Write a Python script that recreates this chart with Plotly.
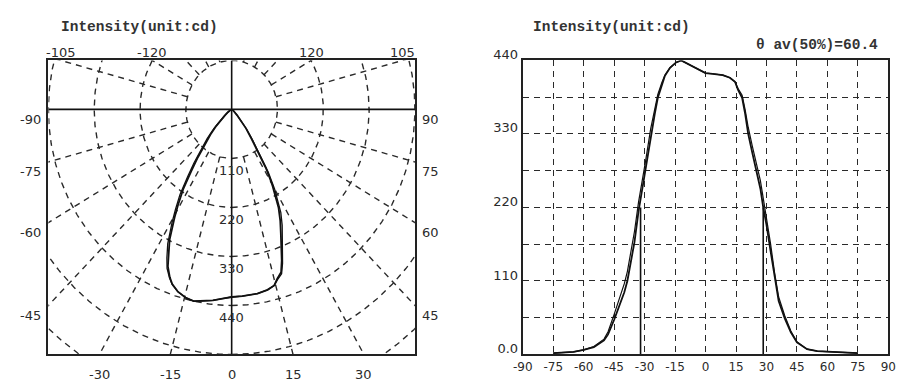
import numpy as np
import plotly.graph_objects as go

# ---------------- data ----------------
theta_deg = [-75, -70, -65, -60, -55, -50, -48, -45, -42, -40, -38.5, -37, -35, -33, -31, -29.5,
             -27, -25, -23.5, -21.5, -20, -17.5, -14.5, -12, -9.5, -6, -3, 0, 3.5, 8.5, 12, 14.5,
             16, 18, 19.5, 21, 23, 25, 27, 28.4, 30, 32, 34, 36, 39, 42, 45, 50, 55, 60, 65, 70, 75]
intensity_a = [2, 3, 4, 7, 11, 21, 30, 52, 76, 93, 110, 135, 168, 214, 250, 278,
               328, 360, 384, 405, 417, 429, 437, 440, 436, 431, 425, 421, 420, 418, 414, 408,
               396, 384, 360, 330, 302, 276, 248, 220, 194, 155, 114, 80, 54, 33, 18, 8, 5, 4, 3, 2, 2]
intensity_b = [2, 3, 4, 7, 12, 23, 34, 60, 88, 106, 124, 150, 184, 228, 262, 290,
               338, 368, 389, 407, 418, 429, 437, 440, 436, 431, 425, 421, 420, 418, 414, 408,
               398, 388, 366, 340, 312, 287, 260, 234, 206, 166, 122, 86, 58, 35, 19, 8, 5, 4, 3, 2, 2]
half_angles = [-32.0, 28.4]
half_value = 220

ring_values = [110, 220, 330, 440, 550, 660]
ring_labels = ["110", "220", "330", "440"]
side_angles = [90, 75, 60, 45]
bottom_angles = [-30, -15, 0, 15, 30]
top_angles = [-105, -120, 120, 105]

cart_xticks = list(range(-90, 91, 15))
cart_yticks = [0, 55, 110, 165, 220, 275, 330, 385, 440]
cart_yticktext = ["0.0", "", "110", "", "220", "", "330", "", "440"]

polar_xrange = [-440, 440]
polar_yrange = [-550, 110]

# ---------------- layout geometry ----------------
W, H = 905, 385
OFF = 8  # page body margin compensation
def px(x0, x1):
    return [(x0 - OFF) / W, (x1 - OFF) / W]
def py(y_top, y_bot):
    return [1 - (y_bot - OFF) / H, 1 - (y_top - OFF) / H]
def ppx(x):
    return (x - OFF) / W
def ppy(y):
    return 1 - (y - OFF) / H

GRID = "#2a2a2a"
DASH = "6px,5px"
LBL = dict(family="DejaVu Sans", size=13, color="#2b2b2b")
TCK = dict(family="DejaVu Sans", size=12, color="#2b2b2b")
TTL = dict(family="Liberation Mono", size=14.5, color="#333")

fig = go.Figure()

# ---------------- left: polar (cartesian rendering) ----------------
phi = np.linspace(0, 2 * np.pi, 721)
rx, ry = [], []
for r in ring_values:
    rx += list(r * np.sin(phi)) + [None]
    ry += list(-r * np.cos(phi)) + [None]
fig.add_trace(go.Scatter(x=rx, y=ry, mode="lines", xaxis="x", yaxis="y",
                         line=dict(color=GRID, width=1.4, dash=DASH), hoverinfo="skip"))

sx, sy = [], []
for a in range(15, 360, 15):
    if a % 90 == 0:
        continue
    t = np.radians(a)
    sx += [ring_values[0] * np.sin(t), 1200 * np.sin(t), None]
    sy += [-ring_values[0] * np.cos(t), -1200 * np.cos(t), None]
fig.add_trace(go.Scatter(x=sx, y=sy, mode="lines", xaxis="x", yaxis="y",
                         line=dict(color=GRID, width=1.4, dash=DASH), hoverinfo="skip"))

# solid axes through origin
fig.add_trace(go.Scatter(x=[polar_xrange[0], polar_xrange[1], None, 0, 0],
                         y=[0, 0, None, polar_yrange[0], polar_yrange[1]],
                         mode="lines", xaxis="x", yaxis="y",
                         line=dict(color="#111", width=1.6), hoverinfo="skip"))

for vals, w in ((intensity_b, 1.3), (intensity_a, 1.8)):
    t = np.radians(theta_deg)
    v = np.array(vals, dtype=float)
    fig.add_trace(go.Scatter(x=v * np.sin(t), y=-v * np.cos(t), mode="lines",
                             xaxis="x", yaxis="y", line=dict(color="#111", width=w)))

# ---------------- right: cartesian ----------------
fig.add_trace(go.Scatter(x=theta_deg, y=intensity_b, mode="lines", xaxis="x2", yaxis="y2",
                         line=dict(color="#111", width=1.2)))
fig.add_trace(go.Scatter(x=theta_deg, y=intensity_a, mode="lines", xaxis="x2", yaxis="y2",
                         line=dict(color="#111", width=1.8)))
hx, hy = [], []
for a in half_angles:
    hx += [a, a, None]
    hy += [0, half_value, None]
fig.add_trace(go.Scatter(x=hx, y=hy, mode="lines", xaxis="x2", yaxis="y2",
                         line=dict(color="#111", width=1.6)))

# ---------------- annotations ----------------
ann = []
for r, txt in zip(ring_values, ring_labels):
    ann.append(dict(x=0, y=-r, xref="x", yref="y", text=txt, showarrow=False,
                    font=LBL, xanchor="center", yanchor="middle", yshift=-12))
for a in side_angles:
    yv = -polar_xrange[1] / np.tan(np.radians(a)) if a != 90 else 0
    ann.append(dict(x=polar_xrange[0], y=yv, xref="x", yref="y", text=str(-a), showarrow=False,
                    font=LBL, xanchor="right", yanchor="middle", xshift=-5, yshift=-10))
    ann.append(dict(x=polar_xrange[1], y=yv, xref="x", yref="y", text=str(a), showarrow=False,
                    font=LBL, xanchor="left", yanchor="middle", xshift=5, yshift=-10))
for a in bottom_angles:
    xv = -polar_yrange[0] * np.tan(np.radians(a))
    ann.append(dict(x=xv, y=polar_yrange[0], xref="x", yref="y", text=str(a), showarrow=False,
                    font=LBL, xanchor="center", yanchor="middle", yshift=-20))
for a in top_angles:
    t = np.radians(abs(a))
    r = -polar_yrange[1] / np.cos(t)
    xv = np.sign(a) * r * np.sin(t)
    ann.append(dict(x=xv, y=polar_yrange[1], xref="x", yref="y", text=str(a), showarrow=False,
                    font=LBL, xanchor="center", yanchor="middle", yshift=8))

ann.append(dict(x=ppx(132), y=ppy(14), xref="paper", yref="paper", xanchor="center",
                yanchor="middle", text="<b>Intensity(unit:cd)</b>", showarrow=False, font=TTL))
ann.append(dict(x=ppx(614), y=ppy(14), xref="paper", yref="paper", xanchor="center",
                yanchor="middle", text="<b>Intensity(unit:cd)</b>", showarrow=False, font=TTL))
fwhm = half_angles[1] - half_angles[0]
ann.append(dict(x=ppx(887), y=ppy(33), xref="paper", yref="paper", xanchor="right",
                yanchor="middle", text="<b>θ av(50%)=" + "%.1f" % fwhm + "</b>",
                showarrow=False, font=TTL))

fig.update_layout(
    width=W, height=H,
    margin=dict(l=0, r=0, t=0, b=0),
    paper_bgcolor="white", plot_bgcolor="white",
    showlegend=False,
    annotations=ann,
    xaxis=dict(domain=px(39, 413), range=polar_xrange, showgrid=False, zeroline=False,
               showticklabels=False, ticks="", showline=True, mirror=True,
               linecolor="#222", linewidth=2),
    yaxis=dict(domain=py(49, 355), range=polar_yrange, showgrid=False, zeroline=False,
               showticklabels=False, ticks="", showline=True, mirror=True,
               linecolor="#222", linewidth=2),
    xaxis2=dict(domain=px(523, 896), range=[-90, 90], anchor="y2",
                tickvals=cart_xticks, ticktext=[str(v) for v in cart_xticks],
                showgrid=True, gridcolor=GRID, gridwidth=1.4, griddash=DASH,
                zeroline=False, ticks="", showline=True, mirror=True,
                linecolor="#222", linewidth=2, tickfont=TCK),
    yaxis2=dict(domain=py(49, 355), range=[0, 440], anchor="x2",
                tickvals=cart_yticks, ticktext=cart_yticktext,
                showgrid=True, gridcolor=GRID, gridwidth=1.4, griddash=DASH,
                zeroline=False, ticks="", showline=True, mirror=True,
                linecolor="#222", linewidth=2, tickfont=LBL, ticklabelshift=-6),
)

fig.write_html("out.html")
